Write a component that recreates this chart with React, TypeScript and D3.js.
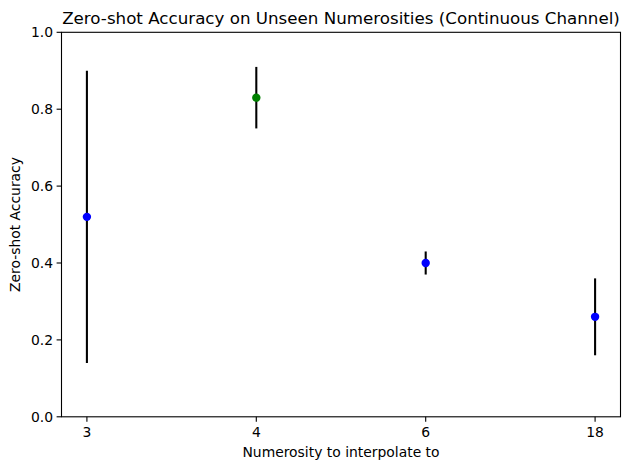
import React from "react";
import * as d3 from "d3";

const categories = ["3", "4", "6", "18"];
const accuracy = [0.52, 0.83, 0.40, 0.26];
const lower = [0.14, 0.75, 0.37, 0.16];
const upper = [0.90, 0.91, 0.43, 0.36];
const pointColors = ["blue", "green", "blue", "blue"];
const yTicks = [0.0, 0.2, 0.4, 0.6, 0.8, 1.0];

const W = 630, H = 470;
const left = 61.5, right = 620.5, top = 32.3, bottom = 416.8;

export default function App() {
  const x = d3.scaleLinear().domain([-0.15, 3.15]).range([left, right]);
  const y = d3.scaleLinear().domain([0, 1]).range([bottom, top]);
  const font = "DejaVu Sans, sans-serif";
  return (
    <svg width={W} height={H} style={{ position: "absolute", left: 0, top: 0 }} fontFamily={font}>
      <rect x={0} y={0} width={W} height={H} fill="white" />
      {categories.map((c, i) => (
        <g key={c}>
          <line x1={x(i)} x2={x(i)} y1={y(lower[i])} y2={y(upper[i])} stroke="black" strokeWidth={2.08} />
          <circle cx={x(i)} cy={y(accuracy[i])} r={4.2} fill={pointColors[i]} />
        </g>
      ))}
      <rect x={left} y={top} width={right - left} height={bottom - top} fill="none" stroke="black" strokeWidth={1.1} />
      {yTicks.map((t) => (
        <g key={t}>
          <line x1={left - 4.9} x2={left} y1={y(t)} y2={y(t)} stroke="black" strokeWidth={1.1} />
          <text x={left - 8.5} y={y(t)} dy="0.35em" textAnchor="end" fontSize={13.9}>{t.toFixed(1)}</text>
        </g>
      ))}
      {categories.map((c, i) => (
        <g key={c}>
          <line x1={x(i)} x2={x(i)} y1={bottom} y2={bottom + 4.9} stroke="black" strokeWidth={1.1} />
          <text x={x(i)} y={bottom + 20.2} textAnchor="middle" fontSize={13.9}>{c}</text>
        </g>
      ))}
      <text x={(left + right) / 2} y={457.2} textAnchor="middle" fontSize={13.9}>Numerosity to interpolate to</text>
      <text transform={`translate(20,${(top + bottom) / 2}) rotate(-90)`} textAnchor="middle" fontSize={13.9}>Zero-shot Accuracy</text>
      <text x={(left + right) / 2} y={24} textAnchor="middle" fontSize={16.7}>Zero-shot Accuracy on Unseen Numerosities (Continuous Channel)</text>
    </svg>
  );
}
